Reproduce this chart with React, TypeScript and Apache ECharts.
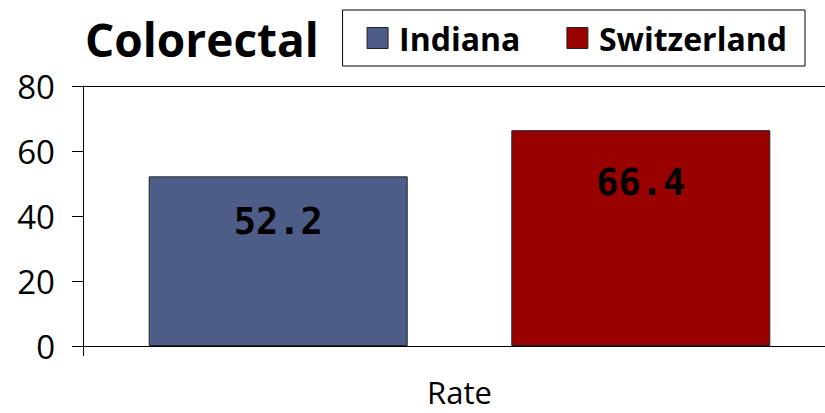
import React, { useEffect, useRef } from "react";
import * as echarts from "echarts";

const categories = ["Rate"];
const seriesNames = ["Indiana", "Switzerland"];
const indianaValues = [52.2];
const switzerlandValues = [66.4];
const colors = ["#4E5D87", "#990000"];
const yTicks = { min: 0, max: 80, interval: 20 };

export default function App() {
  const ref = useRef<HTMLDivElement>(null);
  useEffect(() => {
    if (!ref.current) return;
    const chart = echarts.init(ref.current, null, { renderer: "svg" });
    const labelStyle = (distance: number) => ({
      show: true,
      position: "insideTop",
      distance,
      fontFamily: "DejaVu Sans Mono",
      fontWeight: "bold",
      fontSize: 37,
      color: "#000",
    });
    chart.setOption({
      animation: false,
      backgroundColor: "#fff",
      title: {
        text: "Colorectal",
        left: 80,
        top: 11,
        textStyle: {
          fontFamily: "Open Sans",
          fontWeight: "bold",
          fontSize: 46,
          color: "#000",
        },
      },
      legend: {
        data: seriesNames,
        right: 31,
        top: 10,
        padding: [12, 18, 12, 24],
        borderColor: "#000",
        borderWidth: 1,
        itemWidth: 21,
        itemHeight: 21,
        itemGap: 46,
        icon: "rect",
        itemStyle: { borderColor: "#222", borderWidth: 1 },
        textStyle: {
          fontFamily: "Open Sans",
          fontWeight: "bold",
          fontSize: 32,
          lineHeight: 32,
          color: "#000",
          padding: [0, 0, 0, 6],
        },
      },
      grid: { left: 83, right: 0, top: 86, bottom: 67 },
      xAxis: [
        {
          type: "category",
          data: categories,
          boundaryGap: true,
          axisLine: { show: true, lineStyle: { color: "#000", width: 1 } },
          axisTick: { show: true, length: 10, lineStyle: { color: "#000" } },
          axisLabel: {
            margin: 30,
            fontFamily: "Open Sans",
            fontSize: 31,
            lineHeight: 32,
            color: "#000",
          },
        },
        {
          type: "category",
          data: categories,
          position: "top",
          axisLine: { show: true, lineStyle: { color: "#000", width: 1 } },
          axisTick: { show: false },
          axisLabel: { show: false },
        },
      ],
      yAxis: {
        type: "value",
        min: yTicks.min,
        max: yTicks.max,
        interval: yTicks.interval,
        axisLine: { show: true, lineStyle: { color: "#000", width: 1 } },
        axisTick: { show: true, length: 11, lineStyle: { color: "#000" } },
        splitLine: { show: false },
        axisLabel: {
          margin: 28,
          fontFamily: "Open Sans",
          fontSize: 33,
          color: "#000",
        },
      },
      series: [
        {
          name: seriesNames[0],
          type: "bar",
          data: indianaValues,
          barWidth: 259,
          barGap: "40%",
          itemStyle: { color: colors[0], borderColor: "#222", borderWidth: 1 },
          label: labelStyle(27),
        },
        {
          name: seriesNames[1],
          type: "bar",
          data: switzerlandValues,
          barWidth: 259,
          barGap: "40%",
          itemStyle: { color: colors[1], borderColor: "#222", borderWidth: 1 },
          label: labelStyle(34),
        },
      ],
    });
    return () => chart.dispose();
  }, []);
  return (
    <div
      ref={ref}
      style={{ position: "fixed", left: 0, top: 0, width: 836, height: 413 }}
    />
  );
}
